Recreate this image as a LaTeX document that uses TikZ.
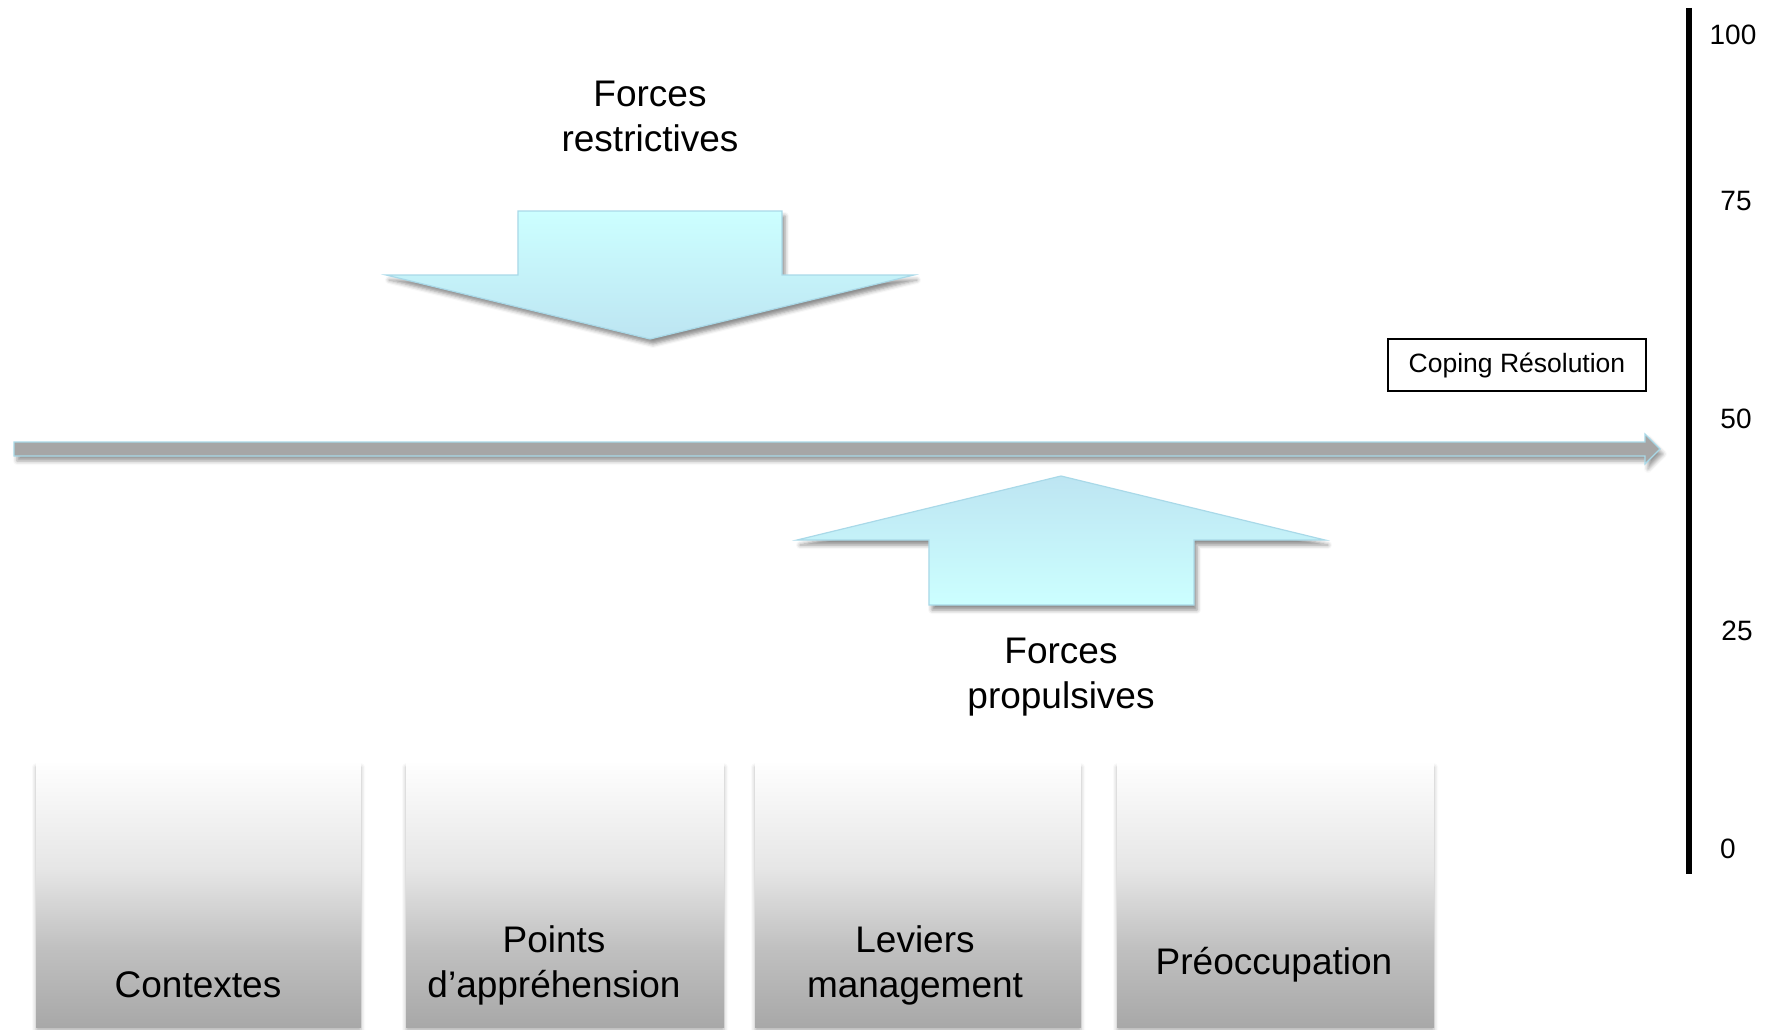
\documentclass[tikz,border=0pt]{standalone}
\usepackage{fontspec}
\setmainfont{Liberation Sans}
\usetikzlibrary{shadows.blur}

\definecolor{cyanlight}{HTML}{CCFFFF}
\definecolor{cyandeep}{HTML}{BDE5F2}
\definecolor{arrowedge}{HTML}{A9D9E8}
\definecolor{bargray}{HTML}{A6A6A6}
\definecolor{gA}{HTML}{A8A8A8}
\definecolor{gB}{HTML}{C0C0C0}
\definecolor{gC}{HTML}{E6E6E6}
\definecolor{gD}{HTML}{FEFEFE}

% grey fade used by the category panels (bottom -> top)
\pgfdeclareverticalshading{panelfade}{100bp}{%
  color(0bp)=(gA); color(25bp)=(gA); color(40bp)=(gB);
  color(55bp)=(gC); color(75bp)=(gD); color(100bp)=(gD)}

\tikzset{
  bigtext/.style={font=\fontsize{37}{45}\selectfont, align=center},
  scaletext/.style={font=\fontsize{28}{32}\selectfont},
  forcearrow/.style={draw=arrowedge, line width=1.2pt,
    blur shadow={shadow xshift=3pt, shadow yshift=-5pt, shadow blur radius=4pt, shadow opacity=45}},
  panel/.style={shading=panelfade,
    blur shadow={shadow xshift=0pt, shadow yshift=-4pt, shadow blur radius=4pt, shadow opacity=30}},
}

\begin{document}
\begin{tikzpicture}[x=1pt, y=-1pt]
  \useasboundingbox (0,0) rectangle (1773,1030);

  % restraining force arrow (pointing down)
  \path[forcearrow, top color=cyanlight, bottom color=cyandeep]
    (518,211) -- (782,211) -- (782,275) -- (914,275) -- (650,339)
    -- (386,275) -- (518,275) -- cycle;
  \node[bigtext] (restr) at (650,116) {Forces\\restrictives};

  % main time axis
  \path[draw=arrowedge, fill=bargray, line width=1.2pt,
    blur shadow={shadow xshift=3pt, shadow yshift=-5pt, shadow blur radius=4pt, shadow opacity=40}]
    (14,442) -- (1645,442) -- (1645,434) -- (1660,449) -- (1645,464)
    -- (1645,456) -- (14,456) -- cycle;

  % driving force arrow (pointing up)
  \path[forcearrow, top color=cyandeep, bottom color=cyanlight]
    (1061,476) -- (1325,540) -- (1194,540) -- (1194,605) -- (929,605)
    -- (929,540) -- (797,540) -- cycle;
  \node[bigtext] (prop) at (1061,677) {Forces\\propulsives};

  % coping label
  \node[draw=black, line width=1.5pt, minimum width=258pt, minimum height=52pt,
        font=\fontsize{26.5}{30}\selectfont] (coping) at (1517,365) {Coping Résolution};

  % vertical scale
  \coordinate (top) at (1689,8);
  \coordinate (bot) at (1689,874);
  \draw[line width=6pt] (top) -- (bot);
  \node[scaletext] (s100) at (1733,35) {100};
  \node[scaletext] (s75) at (1736,201) {75};
  \node[scaletext] (s50) at (1736,419) {50};
  \node[scaletext] (s25) at (1737,631) {25};
  \node[scaletext] (s0) at (1728,849) {0};

  % category panels
  \path[panel] (36,763) rectangle (361,1027);
  \path[panel] (406,763) rectangle (724,1027);
  \path[panel] (755,763) rectangle (1081,1027);
  \path[panel] (1117,763) rectangle (1434,1027);
  \node[bigtext] (ctx) at (198,985) {Contextes};
  \node[bigtext] (pts) at (554,965) {Points\\d’appréhension};
  \node[bigtext] (lev) at (915,965) {Leviers\\management};
  \node[bigtext] (pre) at (1274,965) {Préoccupation};
\end{tikzpicture}
\end{document}
